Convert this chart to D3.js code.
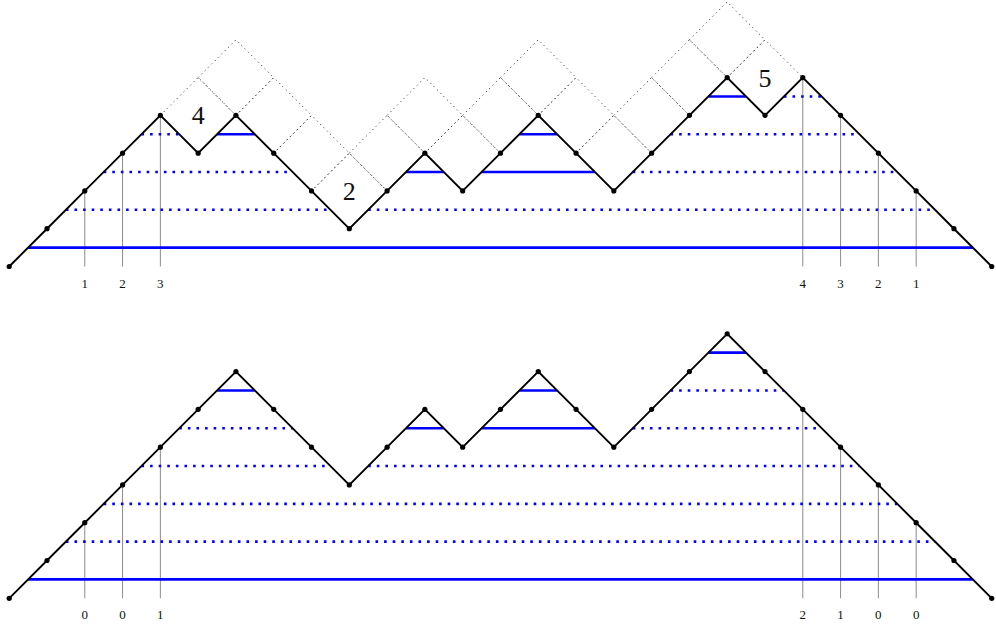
<!DOCTYPE html>
<html>
<head>
<meta charset="utf-8">
<script src="https://cdn.jsdelivr.net/npm/d3@7"></script>
<style>
  html, body { margin: 0; padding: 0; background: #fff; }
  svg { display: block; }
  text { font-family: "Liberation Serif", "DejaVu Serif", serif; fill: #111; }
</style>
</head>
<body>
<div class="svg-container"></div>
<script>
// heights of the two paths, one value per vertex
const topHeights = [0,1,2,3,4,3,4,3,2,1,2,3,2,3,4,3,2,3,4,5,4,5,4,3,2,1,0];
const bottomHeights = [0,1,2,3,4,5,6,5,4,3,4,5,4,5,6,5,4,5,6,7,6,5,4,3,2,1,0];

// up-steps whose chord is drawn solid (others dotted)
const solidStarts = [0, 5, 10, 12, 13, 18];

// vertical markers: vertex index + label
const markIndex = [2, 3, 4, 21, 22, 23, 24];
const topMarkLabels = ["1", "2", "3", "4", "3", "2", "1"];
const bottomMarkLabels = ["0", "0", "1", "2", "1", "0", "0"];

// numbers written inside some cells of the top lattice
const cellCols = [5, 9, 20];
const cellLabels = ["4", "2", "5"];

const W = 996, H = 628;
const unit = 37.79;

const svg = d3.select(".svg-container")
  .append("svg")
  .attr("width", W)
  .attr("height", H);

const x = d3.scaleLinear()
  .domain([0, topHeights.length - 1])
  .range([9.2, 9.2 + unit * (topHeights.length - 1)]);

const yTop = d3.scaleLinear().domain([0, 1]).range([266.5, 266.5 - unit]);
const yBot = d3.scaleLinear().domain([0, 1]).range([598.3, 598.3 - unit]);

// chords: every up-step matched with the next down-step at the same level
function chords(h) {
  const out = [];
  for (let j = 0; j < h.length - 1; j++) {
    if (h[j + 1] !== h[j] + 1) continue;
    for (let k = j + 1; k < h.length - 1; k++) {
      if (h[k] === h[j] + 1 && h[k + 1] === h[j]) {
        out.push({ from: j + 0.5, to: k + 0.5, level: h[j] + 0.5, solid: solidStarts.includes(j) });
        break;
      }
    }
  }
  return out;
}

function drawPanel(h, y, labels, withLattice) {
  const g = svg.append("g");

  // dotted lattice between this path and the bottom path
  if (withLattice) {
    const cols = d3.range(h.length).filter(c => bottomHeights[c] - h[c] === 2);
    g.selectAll(".cell")
      .data(cols)
      .enter()
      .append("path")
      .attr("class", "cell")
      .attr("d", c => d3.line()([
        [x(c - 1), y(h[c] + 1)],
        [x(c), y(h[c] + 2)],
        [x(c + 1), y(h[c] + 1)],
        [x(c), y(h[c])],
        [x(c - 1), y(h[c] + 1)]
      ]))
      .attr("fill", "none")
      .attr("stroke", "#333")
      .attr("stroke-width", 1)
      .attr("stroke-dasharray", "1.1,3.6");

    g.selectAll(".cellLabel")
      .data(cellCols)
      .enter()
      .append("text")
      .attr("x", c => x(c))
      .attr("y", c => y(h[c] + 1) + 9)
      .attr("text-anchor", "middle")
      .style("font-size", "26px")
      .text((c, i) => cellLabels[i]);
  }

  // gray verticals down to the baseline
  g.selectAll(".mark")
    .data(markIndex)
    .enter()
    .append("line")
    .attr("x1", i => x(i))
    .attr("x2", i => x(i))
    .attr("y1", i => y(h[i]))
    .attr("y2", y(0))
    .attr("stroke", "#8c8c8c")
    .attr("stroke-width", 1);

  g.selectAll(".markLabel")
    .data(markIndex)
    .enter()
    .append("text")
    .attr("x", i => x(i))
    .attr("y", y(0) + 21)
    .attr("text-anchor", "middle")
    .style("font-size", "13px")
    .text((d, i) => labels[i]);

  // blue chords
  g.selectAll(".chord")
    .data(chords(h))
    .enter()
    .append("line")
    .attr("x1", d => x(d.from))
    .attr("x2", d => x(d.to))
    .attr("y1", d => y(d.level))
    .attr("y2", d => y(d.level))
    .attr("stroke", "#0000ff")
    .attr("stroke-width", 2.6)
    .attr("stroke-dasharray", d => d.solid ? null : "2.6,6");

  // the path
  g.append("path")
    .datum(h)
    .attr("d", d3.line().x((d, i) => x(i)).y(d => y(d)))
    .attr("fill", "none")
    .attr("stroke", "#000")
    .attr("stroke-width", 1.9)
    .attr("stroke-linejoin", "miter");

  g.selectAll(".dot")
    .data(h)
    .enter()
    .append("circle")
    .attr("cx", (d, i) => x(i))
    .attr("cy", d => y(d))
    .attr("r", 2.6)
    .attr("fill", "#000");
}

drawPanel(topHeights, yTop, topMarkLabels, true);
drawPanel(bottomHeights, yBot, bottomMarkLabels, false);
</script>
</body>
</html>
